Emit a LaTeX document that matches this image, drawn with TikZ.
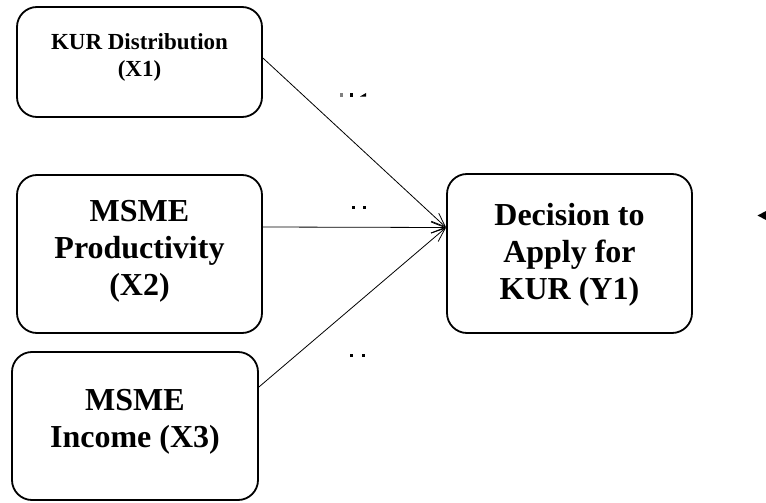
\documentclass[tikz,border=0pt]{standalone}
\usepackage{fontspec}
\setmainfont{Liberation Serif}
\usetikzlibrary{arrows.meta,calc}
\begin{document}
\begin{tikzpicture}[x=1pt,y=-1pt,
  box/.style={draw,line width=1.8pt,rounded corners=20pt,inner sep=0pt},
  big/.style={font=\fontsize{32}{37}\selectfont\bfseries,align=center,inner sep=0pt},
  small/.style={font=\fontsize{23}{27}\selectfont\bfseries,align=center,inner sep=0pt},
  link/.style={line width=0.8pt,-{Straight Barb[length=14pt,width=11pt]}},
  dotmark/.style={fill=black,minimum size=3pt,inner sep=0pt}]
\useasboundingbox (0,0) rectangle (766,503);
% boxes
\node[box,minimum width=245pt,minimum height=110pt] (x1) at (139.5,62) {};
\node[box,minimum width=245pt,minimum height=158pt] (x2) at (139.5,254) {};
\node[box,minimum width=246pt,minimum height=148pt] (x3) at (135,426) {};
\node[box,minimum width=245pt,minimum height=159pt] (y1) at (569.5,253.5) {};
% labels
\node[small] (t1) at ([yshift=4.5pt]x1.center) {KUR Distribution\\(X1)};
\node[big] (t2) at ([yshift=3pt]x2.center) {MSME\\Productivity\\(X2)};
\node[big] (t3) at ([yshift=4pt]x3.center) {MSME\\Income (X3)};
\node[big] (ty) at ([yshift=-1.5pt]y1.center) {Decision to\\Apply for\\KUR (Y1)};
% connectors
\coordinate (tip) at ([yshift=26pt]y1.west);
\draw[link] ([yshift=4pt]x1.east) -- (tip);
\draw[link] ([yshift=27pt]x2.east) -- (tip);
\draw[link] ([yshift=39pt]x3.east) -- (tip);
% stray marks
\node[dotmark,fill=black!50] (d0) at (341,95) {};
\node[dotmark] (d1) at (351.5,95) {};
\fill (360,96.5) -- (366,93) -- (366,96.5) -- cycle;
\node[dotmark] (d2) at (353.5,207.5) {};
\node[dotmark] (d3) at (364.5,207.5) {};
\node[dotmark] (d4) at (351.5,355.5) {};
\node[dotmark] (d5) at (363.5,355.5) {};
\fill (757.5,215.5) -- (766,211) -- (766,220) -- cycle;
\end{tikzpicture}
\end{document}
